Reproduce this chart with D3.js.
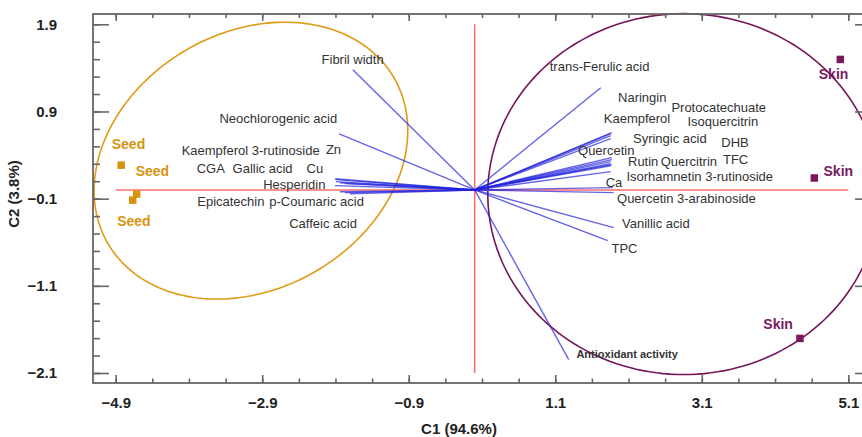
<!DOCTYPE html>
<html>
<head>
<meta charset="utf-8">
<script src="https://cdn.jsdelivr.net/npm/d3@7/dist/d3.min.js"></script>
<style>
html,body{margin:0;padding:0;background:#fff;}
svg{display:block;font-family:"Liberation Sans",Arial,sans-serif;}
</style>
</head>
<body>
<svg id="chart" width="862" height="437"></svg>
<script>
// ---- data ----
const xTicks = [-4.9, -2.9, -0.9, 1.1, 3.1, 5.1];
const yTicks = [1.9, 0.9, -0.1, -1.1, -2.1];

const loadingNames = ["Fibril width","Neochlorogenic acid","Kaempferol 3-rutinoside","Zn","CGA","Gallic acid","Cu","Hesperidin","Epicatechin","p-Coumaric acid","Caffeic acid",
  "trans-Ferulic acid","Naringin","Kaempferol","Protocatechuate","Isoquercitrin","Syringic acid","DHB","Quercetin","Rutin","Quercitrin","TFC","Isorhamnetin 3-rutinoside","Ca","Quercetin 3-arabinoside","Vanillic acid","TPC","Antioxidant activity"];
const loadingC1 = [-1.663,-1.850,-1.908,-1.895,-1.895,-1.840,-1.772,-1.908,-1.840,-1.772,-1.704,
  1.721,1.871,1.857,1.857,1.857,1.871,1.871,1.857,1.857,1.871,1.857,1.857,1.884,1.898,1.898,1.816,1.284];
const loadingC2 = [1.379,0.642,0.129,0.118,0.095,0.083,0.072,0.049,-0.020,-0.031,-0.043,
  1.173,0.657,0.645,0.622,0.588,0.370,0.347,0.324,0.301,0.290,0.278,0.210,0.026,-0.031,-0.433,-0.582,-1.946];
// label anchors (data units, text start / baseline)
const labelC1 = [-2.090,-3.484,-4.000,-2.031,-3.795,-3.304,-2.294,-2.886,-3.787,-2.804,-2.532,
  1.025,1.957,1.762,2.685,2.904,2.161,3.367,1.411,2.093,2.539,3.389,2.071,1.789,1.943,2.011,1.867,1.389];
const labelC2 = [1.442,0.772,0.405,0.416,0.198,0.198,0.198,0.015,-0.186,-0.186,-0.433,
  1.368,1.004,0.768,0.898,0.737,0.539,0.489,0.401,0.278,0.278,0.298,0.106,0.031,-0.149,-0.439,-0.723,-1.923];

const sampleGroup = ["Seed","Seed","Seed","Skin","Skin","Skin"];
const sampleC1 = [-4.825,-4.614,-4.668,4.991,4.636,4.440];
const sampleC2 = [0.284,-0.048,-0.117,1.497,0.137,-1.703];
const sampleLabelC1 = [-4.954,-4.627,-4.880,4.697,4.762,3.940];
const sampleLabelC2 = [0.475,0.163,-0.418,1.277,0.163,-1.592];

// ellipses: centre + two conjugate semi-axis vectors (data units)
const ellipseGroup = ["Seed","Skin"];
const ellipseCentre = [[-3.054, 0.336],[2.853,-0.048]];
const ellipseU = [[1.954, 0.948],[2.674, 0.0]];
const ellipseV = [[0.875,-1.274],[0.0,-2.070]];

// ---- chart ----
const svg = d3.select("#chart");
const x = d3.scaleLinear().domain([-4.9, 5.1]).range([115.7, 848.3]);
const y = d3.scaleLinear().domain([-2.1, 1.9]).range([373, 24.3]);
const frame = {l: 93, r: 863, t: 14, b: 383};
const groupColor = {Seed: "#D8930F", Skin: "#7A1A5C"};
const ellipseColor = {Seed: "#E09A16", Skin: "#731657"};

// ellipses
ellipseGroup.forEach((g, i) => {
  const c = ellipseCentre[i], u = ellipseU[i], v = ellipseV[i];
  const pts = d3.range(0, 361, 2).map(a => {
    const t = a * Math.PI / 180;
    return [x(c[0] + Math.cos(t) * u[0] + Math.sin(t) * v[0]),
            y(c[1] + Math.cos(t) * u[1] + Math.sin(t) * v[1])];
  });
  svg.append("path").attr("d", d3.line()(pts) + "Z")
    .attr("fill", "none").attr("stroke", ellipseColor[g]).attr("stroke-width", 1.6);
});

// zero lines
svg.append("line").attr("x1", x(-4.9)).attr("x2", x(5.1)).attr("y1", y(0)).attr("y2", y(0))
  .attr("stroke", "#FF6F6F").attr("stroke-width", 1.6);
svg.append("line").attr("x1", x(0)).attr("x2", x(0)).attr("y1", y(-2.1)).attr("y2", y(1.9))
  .attr("stroke", "#FF6F6F").attr("stroke-width", 1.6);

// loading vectors
const loadIdx = d3.range(loadingNames.length);
svg.append("g").selectAll("line").data(loadIdx).join("line")
  .attr("x1", x(0)).attr("y1", y(0))
  .attr("x2", i => x(loadingC1[i])).attr("y2", i => y(loadingC2[i]))
  .attr("stroke", "#2222dd").attr("stroke-opacity", 0.7).attr("stroke-width", 1.4);

svg.append("g").selectAll("text").data(loadIdx).join("text")
  .attr("x", i => x(labelC1[i])).attr("y", i => y(labelC2[i]))
  .attr("font-size", i => loadingNames[i] === "Antioxidant activity" ? 11 : 13)
  .attr("font-weight", i => loadingNames[i] === "Antioxidant activity" ? "bold" : "normal")
  .attr("fill", "#333")
  .text(i => loadingNames[i]);

// sample points
const sIdx = d3.range(sampleGroup.length);
const sq = 7.5;
svg.append("g").selectAll("rect").data(sIdx).join("rect")
  .attr("x", i => x(sampleC1[i]) - sq / 2).attr("y", i => y(sampleC2[i]) - sq / 2)
  .attr("width", sq).attr("height", sq)
  .attr("fill", i => groupColor[sampleGroup[i]]);
svg.append("g").selectAll("text").data(sIdx).join("text")
  .attr("x", i => x(sampleLabelC1[i])).attr("y", i => y(sampleLabelC2[i]))
  .attr("font-size", 14).attr("font-weight", "bold")
  .attr("fill", i => groupColor[sampleGroup[i]])
  .text(i => sampleGroup[i]);

// frame
const axisCol = "#666";
svg.append("rect").attr("x", frame.l).attr("y", frame.t)
  .attr("width", frame.r - frame.l).attr("height", frame.b - frame.t)
  .attr("fill", "none").attr("stroke", axisCol).attr("stroke-width", 1.8);

function styleAxis(g) {
  g.select(".domain").remove();
  g.selectAll("line").attr("stroke", axisCol).attr("stroke-width", 1.6);
}
const xMinor = d3.range(-4.9, 5.11, 0.5).map(v => +v.toFixed(2));
const yMinor = d3.range(-2.1, 1.91, 0.2).map(v => +v.toFixed(2));

// bottom axis
svg.append("g").attr("transform", `translate(0,${frame.b})`)
  .call(d3.axisBottom(x).tickValues(xMinor).tickSize(-4.5).tickFormat(""))
  .call(styleAxis);
const xb = svg.append("g").attr("transform", `translate(0,${frame.b})`)
  .call(d3.axisBottom(x).tickValues(xTicks).tickSize(-8).tickPadding(20).tickFormat(d3.format(".1f")))
  .call(styleAxis);
xb.selectAll("text").attr("font-size", 15).attr("font-weight", "bold").attr("fill", "#222")
  .attr("font-family", "Liberation Sans, Arial, sans-serif").attr("dy", "0.3em");
// top axis
svg.append("g").attr("transform", `translate(0,${frame.t})`)
  .call(d3.axisTop(x).tickValues(xMinor).tickSize(-4).tickFormat(""))
  .call(styleAxis);
svg.append("g").attr("transform", `translate(0,${frame.t})`)
  .call(d3.axisTop(x).tickValues(xTicks).tickSize(-7).tickFormat(""))
  .call(styleAxis);
// left axis
svg.append("g").attr("transform", `translate(${frame.l},0)`)
  .call(d3.axisLeft(y).tickValues(yMinor).tickSize(-7).tickFormat(""))
  .call(styleAxis);
const yl = svg.append("g").attr("transform", `translate(${frame.l},0)`)
  .call(d3.axisLeft(y).tickValues(yTicks).tickSize(-16).tickPadding(36).tickFormat(d3.format(".1f")))
  .call(styleAxis);
yl.selectAll("text").attr("font-size", 15).attr("font-weight", "bold").attr("fill", "#222")
  .attr("font-family", "Liberation Sans, Arial, sans-serif");
// right axis
svg.append("g").attr("transform", `translate(${frame.r},0)`)
  .call(d3.axisRight(y).tickValues(yTicks).tickSize(-8).tickFormat(""))
  .call(styleAxis);

// axis titles
svg.append("text").attr("x", 459).attr("y", 434)
  .attr("text-anchor", "middle").attr("font-size", 15).attr("font-weight", "bold").attr("fill", "#222")
  .text("C1 (94.6%)");
svg.append("text").attr("transform", `translate(19,194) rotate(-90)`)
  .attr("text-anchor", "middle").attr("font-size", 15).attr("font-weight", "bold").attr("fill", "#222")
  .text("C2 (3.8%)");
</script>
</body>
</html>
